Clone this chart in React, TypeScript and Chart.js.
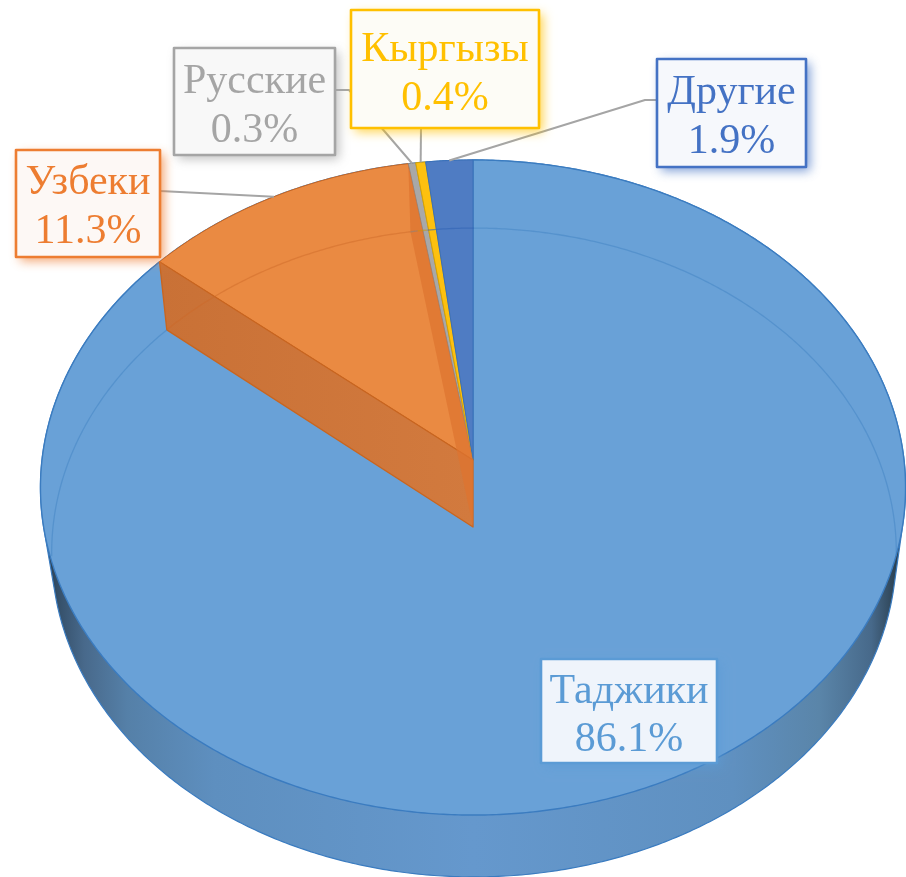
import React, { useEffect, useRef } from "react";
import { Chart, registerables } from "chart.js";

Chart.register(...registerables);

const categories = ["Таджики", "Узбеки", "Русские", "Кыргызы", "Другие"];
const shares = [86.1, 11.3, 0.3, 0.4, 1.9];
const valueLabels = ["86.1%", "11.3%", "0.3%", "0.4%", "1.9%"];

const seriesColors = ["#5b9bd5", "#ed7d31", "#a5a5a5", "#ffc000", "#4472c4"];
const faceColors = ["#69a1d7", "#ea8a42", "#a8a8a8", "#fdc00f", "#4f7cc3"];
const edgeColors = ["#3b7cc0", "#c9651f", "#8c8c8c", "#d9a300", "#3a70b8"];
const rimLineColors = ["rgba(62,128,194,0.45)", "rgba(205,105,40,0.45)", "rgba(130,130,130,0.5)", "rgba(200,150,0,0.5)", "rgba(50,100,180,0.6)"];
const labelFills = ["#eff4fb", "#fdf8f5", "#f8f8f8", "#fdfcf6", "#f6f8fc"];

// box: left, top, right, bottom, first baseline, second baseline
const labelBoxes = [
  [541, 659, 717, 763, 703, 751],
  [16, 150, 160, 257, 194, 243],
  [174, 48, 335, 155, 93, 142],
  [351, 10, 539, 128, 61, 110],
  [657, 59, 806, 167, 104, 153],
];
// leader start points (from box edge), with optional elbow
const leaders: (number[][] | null)[] = [
  null,
  [[160, 191]],
  [[335, 90], [349, 90]],
  [[421, 128]],
  [[657, 100], [645, 100]],
];

type Proj = { cx: number; A: number; a: number; b: number; k: number };
const TOP: Proj = { cx: 473, A: 431, a: 286.6, b: 460, k: -0.084 };
const BOTTOM: Proj = { cx: 474, A: 421, a: 281, b: 527, k: -0.0786 };

const pt = (p: Proj, ang: number): [number, number] => {
  const u = Math.cos(ang);
  const v = Math.sin(ang);
  const w = 1 + p.k * v;
  return [p.cx + (p.A * u) / w, (p.a * v + p.b) / w];
};

const hull = (pts: [number, number][]) => {
  const s = [...pts].sort((a, b) => a[0] - b[0] || a[1] - b[1]);
  const cross = (o: number[], a: number[], b: number[]) =>
    (a[0] - o[0]) * (b[1] - o[1]) - (a[1] - o[1]) * (b[0] - o[0]);
  const lo: [number, number][] = [];
  for (const p of s) {
    while (lo.length >= 2 && cross(lo[lo.length - 2], lo[lo.length - 1], p) <= 0) lo.pop();
    lo.push(p);
  }
  const up: [number, number][] = [];
  for (let i = s.length - 1; i >= 0; i--) {
    const p = s[i];
    while (up.length >= 2 && cross(up[up.length - 2], up[up.length - 1], p) <= 0) up.pop();
    up.push(p);
  }
  return lo.slice(0, -1).concat(up.slice(0, -1));
};

const arcTrace = (ctx: CanvasRenderingContext2D, p: Proj, a0: number, a1: number, move: boolean) => {
  const n = Math.max(2, Math.ceil(Math.abs(a1 - a0) / 0.008));
  for (let i = 0; i <= n; i++) {
    const [x, y] = pt(p, a0 + ((a1 - a0) * i) / n);
    if (i === 0 && move) ctx.moveTo(x, y);
    else ctx.lineTo(x, y);
  }
};

const pie3d = {
  id: "pie3d",
  beforeDatasetsDraw(chart: any) {
    const ctx: CanvasRenderingContext2D = chart.ctx;
    const arcs = chart.getDatasetMeta(0).data.map((el: any) => el.getProps(["startAngle", "endAngle"], true));
    ctx.save();
    ctx.lineJoin = "round";

    // side wall: hull of both rims
    const rim: [number, number][] = [];
    for (let i = 0; i < 720; i++) {
      const a = (i / 720) * Math.PI * 2;
      rim.push(pt(TOP, a), pt(BOTTOM, a));
    }
    const grad = ctx.createLinearGradient(41, 0, 906, 0);
    [
      [0, "#22333f"],
      [0.02, "#35506a"],
      [0.05, "#48698b"],
      [0.1, "#5580a8"],
      [0.2, "#5e8fbf"],
      [0.5, "#6598cd"],
      [0.8, "#5f90c0"],
      [0.9, "#5a85a9"],
      [0.96, "#47698a"],
      [0.985, "#2f4659"],
      [1, "#22333f"],
    ].forEach(([o, c]) => grad.addColorStop(o as number, c as string));
    const h = hull(rim);
    ctx.beginPath();
    h.forEach(([x, y], i) => (i ? ctx.lineTo(x, y) : ctx.moveTo(x, y)));
    ctx.closePath();
    ctx.fillStyle = grad;
    ctx.fill();
    ctx.strokeStyle = "#3b7cc0";
    ctx.lineWidth = 1.2;
    ctx.stroke();

    // top faces
    const apexT: [number, number] = [TOP.cx, TOP.b];
    const apexB: [number, number] = [BOTTOM.cx - 1, BOTTOM.b];
    arcs.forEach((arc: any, i: number) => {
      ctx.beginPath();
      ctx.moveTo(apexT[0], apexT[1]);
      arcTrace(ctx, TOP, arc.startAngle, arc.endAngle, false);
      ctx.closePath();
      ctx.fillStyle = faceColors[i];
      ctx.fill();
      ctx.strokeStyle = edgeColors[i];
      ctx.lineWidth = i === 0 ? 1.4 : 1;
      ctx.stroke();
    });

    // cut walls of the second slice
    const wall = arcs[1];
    const outerT = pt(TOP, wall.startAngle);
    const outerB = pt(BOTTOM, wall.startAngle);
    const wg = ctx.createLinearGradient(outerT[0], 0, apexT[0], 0);
    wg.addColorStop(0, "#c97136");
    wg.addColorStop(1, "#d27a3e");
    ctx.beginPath();
    ctx.moveTo(apexT[0], apexT[1]);
    ctx.lineTo(outerT[0], outerT[1]);
    ctx.lineTo(outerB[0], outerB[1]);
    ctx.lineTo(apexB[0], apexB[1]);
    ctx.closePath();
    ctx.fillStyle = wg;
    ctx.fill();
    ctx.strokeStyle = "#c9651f";
    ctx.lineWidth = 1.3;
    ctx.stroke();

    const endT = pt(TOP, wall.endAngle);
    const endB = pt(BOTTOM, wall.endAngle);
    ctx.beginPath();
    ctx.moveTo(endT[0], endT[1]);
    ctx.lineTo(endB[0], endB[1]);
    ctx.lineTo(apexB[0], apexB[1]);
    ctx.lineTo(apexT[0], apexT[1]);
    ctx.closePath();
    ctx.fillStyle = "rgba(222,116,48,0.75)";
    ctx.fill();

    // far rim of the base, seen through the faces
    const limit = 0.09;
    const lo = Math.PI - limit;
    const hi = Math.PI * 2 + limit;
    arcs.forEach((arc: any, i: number) => {
      ctx.strokeStyle = rimLineColors[i];
      ctx.lineWidth = 1.3;
      for (const shift of [0, Math.PI * 2, -Math.PI * 2]) {
        const s = Math.max(arc.startAngle + shift, lo);
        const e = Math.min(arc.endAngle + shift, hi);
        if (e > s) {
          ctx.beginPath();
          arcTrace(ctx, BOTTOM, s, e, true);
          ctx.stroke();
        }
      }
    });

    // leaders
    ctx.strokeStyle = "#a5a5a5";
    ctx.lineWidth = 2;
    arcs.forEach((arc: any, i: number) => {
      const l = leaders[i];
      if (!l) return;
      const [ex, ey] = pt(TOP, (arc.startAngle + arc.endAngle) / 2);
      ctx.beginPath();
      l.forEach(([x, y], j) => (j ? ctx.lineTo(x, y) : ctx.moveTo(x, y)));
      ctx.lineTo(ex, ey);
      ctx.stroke();
    });

    // labels
    ctx.textAlign = "center";
    ctx.textBaseline = "alphabetic";
    ctx.font = "42px 'Liberation Serif', serif";
    categories.forEach((name, i) => {
      const [l, t, r, b, y1, y2] = labelBoxes[i];
      ctx.save();
      ctx.shadowColor = seriesColors[i] + "b0";
      ctx.shadowBlur = 10;
      ctx.shadowOffsetX = 4;
      ctx.shadowOffsetY = 4;
      ctx.fillStyle = labelFills[i];
      ctx.fillRect(l, t, r - l, b - t);
      ctx.restore();
      ctx.strokeStyle = seriesColors[i];
      ctx.lineWidth = 2.6;
      ctx.strokeRect(l, t, r - l, b - t);
      ctx.fillStyle = seriesColors[i];
      const c = (l + r) / 2;
      ctx.fillText(name, c, y1);
      ctx.fillText(valueLabels[i], c, y2);
    });
    ctx.restore();
    return false;
  },
};

export default function App() {
  const ref = useRef<HTMLCanvasElement>(null);
  useEffect(() => {
    const chart = new Chart(ref.current as HTMLCanvasElement, {
      type: "pie",
      data: {
        labels: categories,
        datasets: [{ data: shares, backgroundColor: faceColors, borderColor: edgeColors }],
      },
      options: {
        animation: false,
        responsive: false,
        plugins: { legend: { display: false }, tooltip: { enabled: false } },
      },
      plugins: [pie3d],
    } as any);
    return () => chart.destroy();
  }, []);
  return (
    <div style={{ position: "absolute", left: 0, top: 0, width: 906, height: 877, background: "#fff", overflow: "hidden" }}>
      <canvas ref={ref} width={906} height={877} style={{ display: "block" }} />
    </div>
  );
}
